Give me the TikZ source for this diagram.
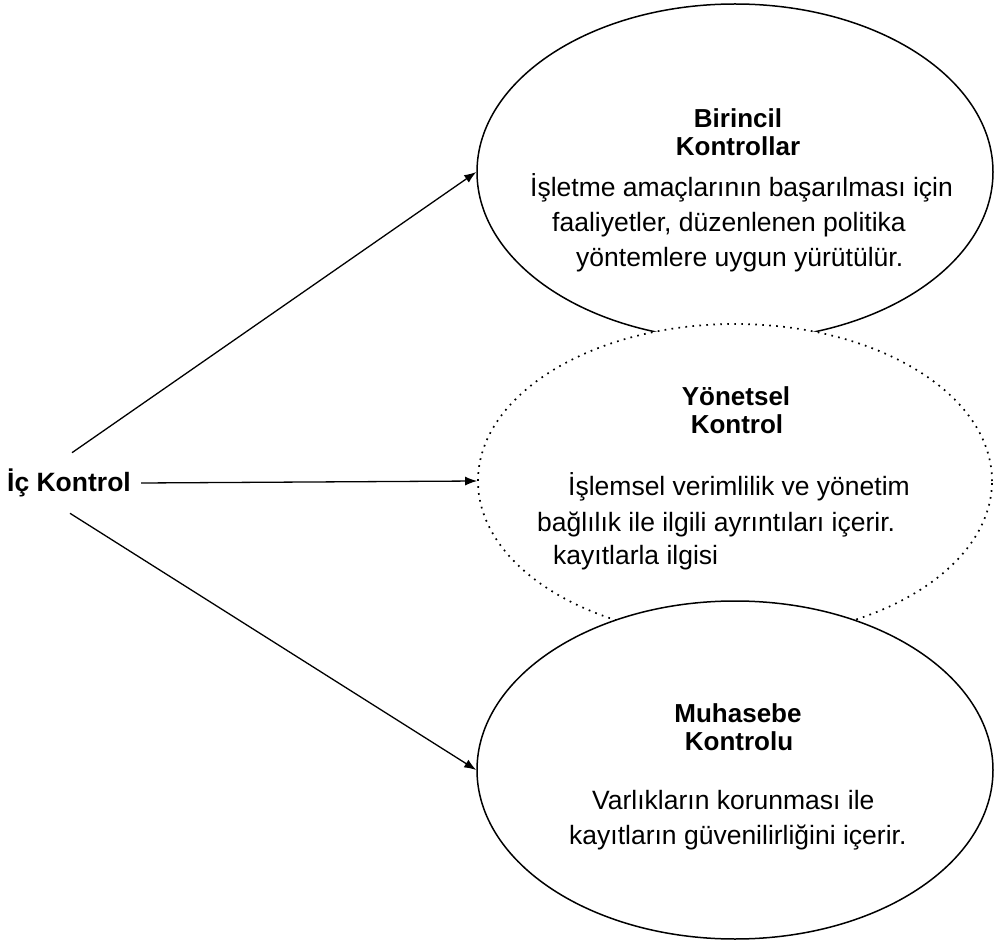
\documentclass[tikz,border=0pt]{standalone}
\usepackage{fontspec}
\setmainfont{Liberation Sans}
\usetikzlibrary{shapes.geometric,arrows.meta}
\begin{document}
\begin{tikzpicture}[x=1pt,y=-1pt,
  oval/.style={draw=black,line width=1.5pt,ellipse,inner sep=0pt,fill=white},
  dotoval/.style={oval,line width=1.7pt,dash pattern=on 1.7pt off 5.3pt},
  head/.style={font=\fontsize{26}{30}\selectfont\bfseries,anchor=base,inner sep=0pt},
  body/.style={font=\fontsize{26.5}{32}\selectfont,anchor=base west,inner sep=0pt},
  link/.style={line width=1.3pt,-{Latex[length=12pt,width=9pt]}}]
\useasboundingbox (0,0) rectangle (997,941);

% the three control areas, later ones covering the earlier
\node[oval,minimum width=516pt,minimum height=336pt] (prim) at (735,172) {};
\node[dotoval,minimum width=514pt,minimum height=314pt] (yon) at (735,481) {};
\node[oval,minimum width=516pt,minimum height=338pt] (muh) at (735,770) {};

% root
\node[font=\fontsize{26.5}{30}\selectfont\bfseries,inner xsep=10pt,inner ysep=16pt] (ic) at (69,483) {İç Kontrol};

% Birincil Kontrollar
\node[head] (p1) at (738,128) {Birincil};
\node[head] (p2) at (738,156) {Kontrollar};
\node[body] (p3) at (530,197) {İşletme amaçlarının başarılması için};
\node[body] (p4) at (552,232) {faaliyetler, düzenlenen politika};
\node[body] (p5) at (576,267) {yöntemlere uygun yürütülür.};

% Yönetsel Kontrol
\node[head] (y1) at (736,406) {Yönetsel};
\node[head] (y2) at (737,434) {Kontrol};
\node[body] (y3) at (568,496) {İşlemsel verimlilik ve yönetim};
\node[body] (y4) at (537,531) {bağlılık ile ilgili ayrıntıları içerir.};
\node[body] (y5) at (553,564) {kayıtlarla ilgisi};

% Muhasebe Kontrolu
\node[head] (m1) at (738,722) {Muhasebe};
\node[head] (m2) at (739,750) {Kontrolu};
\node[body] (m3) at (592,809) {Varlıkların korunması ile};
\node[body] (m4) at (569,844) {kayıtların güvenilirliğini içerir.};

% connectors
\draw[link] ([xshift=3pt]ic.north) -- (prim.west);
\draw[link] (ic.east) -- (yon.west);
\draw[link] ([xshift=1pt]ic.south) -- (muh.west);
\end{tikzpicture}
\end{document}
